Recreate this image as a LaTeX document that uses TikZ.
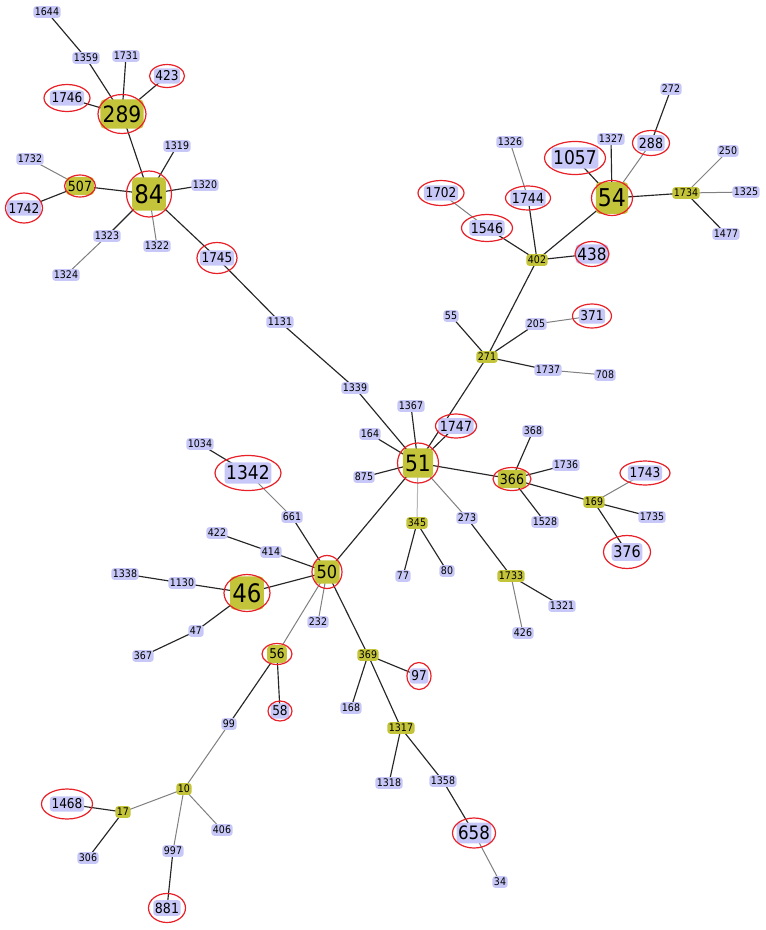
\documentclass[tikz,border=0pt]{standalone}
\usepackage{fontspec}
\setmainfont{DejaVu Sans}[FakeStretch=0.9]
\usetikzlibrary{shapes.geometric,backgrounds}
\definecolor{lav}{HTML}{C8C8F8}
\definecolor{oli}{HTML}{C4C43A}
\definecolor{ringred}{HTML}{E82028}
\tikzset{
  nd/.style={rounded corners=3pt, inner xsep=1.6pt, inner ysep=0pt,
    font=\fontsize{#1}{#1}\selectfont, minimum height={1.12*#1pt}, text=black},
  bl/.style={nd=#1, fill=lav},
  ol/.style={nd=#1, fill=oli},
  obig/.style={nd=#1, fill=oli, minimum height={1.3*#1pt}, inner xsep=2.2pt, rounded corners=4pt},
  ringe/.style={ellipse, draw=ringred, line width=1.2pt, inner sep=0pt},
  dk/.style={draw=black!85, line width=1.15pt},
  gr/.style={draw=black!50, line width=1pt},
  lg/.style={draw=black!28, line width=1pt}
}
\newcommand\nb[4]{\node[bl=#4] (n#1) at (#2,#3) {#1};}
\newcommand\no[4]{\node[ol=#4] (n#1) at (#2,#3) {#1};}
\newcommand\nob[4]{\node[obig=#4] (n#1) at (#2,#3) {#1};}
\newcommand\rg[3]{\node[ringe, minimum width=#2pt, minimum height=#3pt] (r#1) at (n#1.center) {};}
\newcommand\ed[3]{\draw[#1] (n#2.center) -- (n#3.center);}
\begin{document}
\begin{tikzpicture}[x=1pt,y=-1pt]
\useasboundingbox (0,0) rectangle (766,930);
% small blue
\nb{1644}{47}{12}{10.5}
\nb{1359}{86}{58}{10.5}
\nb{1731}{126}{56}{10.5}
\nb{1319}{177}{146}{10.5}
\nb{1320}{205}{185}{10.5}
\nb{1732}{30}{159}{10.5}
\nb{1323}{107}{236}{10.5}
\nb{1322}{157}{246}{10.5}
\nb{1324}{66}{275}{10.5}
\nb{1131}{280}{322}{10.5}
\nb{1339}{355}{388}{10.5}
\nb{272}{671}{89}{10.5}
\nb{1327}{611}{139}{10.5}
\nb{250}{728}{151}{10.5}
\nb{1326}{510}{142}{10.5}
\nb{1325}{746}{192}{10.5}
\nb{1477}{726}{234}{10.5}
\nb{55}{451}{316}{10.5}
\nb{205}{536}{324}{10.5}
\nb{1737}{548}{370}{10.5}
\nb{708}{605}{375}{10.5}
\nb{1367}{411}{406}{10.5}
\nb{164}{370}{434}{10.5}
\nb{875}{364}{477}{10.5}
\nb{368}{533}{431}{10.5}
\nb{1736}{566}{465}{10.5}
\nb{1735}{652}{517}{10.5}
\nb{273}{467}{518}{10.5}
\nb{1528}{545}{522}{10.5}
\nb{77}{403}{576}{10.5}
\nb{80}{447}{571}{10.5}
\nb{1321}{562}{606}{10.5}
\nb{426}{523}{633}{10.5}
\nb{1034}{200}{444}{10.5}
\nb{661}{292}{517}{10.5}
\nb{422}{217}{533}{10.5}
\nb{414}{271}{552}{10.5}
\nb{1338}{125}{574}{10.5}
\nb{1130}{182}{583}{10.5}
\nb{232}{318}{622}{10.5}
\nb{47}{196}{631}{10.5}
\nb{367}{143}{656}{10.5}
\nb{99}{229}{724}{10.5}
\nb{406}{222}{830}{10.5}
\nb{306}{88}{858}{10.5}
\nb{997}{173}{851}{10.5}
\nb{168}{351}{708}{10.5}
\nb{1318}{389}{783}{10.5}
\nb{1358}{443}{781}{10.5}
\nb{34}{500}{882}{10.5}
% small olive
\no{402}{537}{260}{10.5}
\no{271}{487}{357}{10.5}
\no{1734}{686}{193}{10.5}
\no{345}{417}{523}{10.5}
\no{169}{594}{502}{10.5}
\no{1733}{511}{576}{10.5}
\no{369}{368}{655}{10.5}
\no{1317}{401}{728}{10.5}
\no{10}{184}{789}{10.5}
\no{17}{123}{812}{10.5}
% big olive
\nob{289}{122}{114}{22.5}
\nob{84}{149}{194}{25.5}
\nob{507}{80}{186}{14}
\nob{54}{612}{198}{24.5}
\nob{51}{418}{463}{22.5}
\nob{366}{512}{479}{14}
\nob{50}{327}{572}{18}
\nob{46}{247}{593}{25.5}
\nob{56}{277}{654}{13.5}
% medium blue
\nb{423}{167}{76}{13.5}
\nb{1746}{67}{98}{13.5}
\nb{1742}{24}{208}{13.5}
\nb{1745}{217}{258}{13.5}
\nb{1057}{575}{158}{19}
\nb{288}{651}{143}{14}
\nb{1702}{441}{193}{13.5}
\nb{1744}{528}{198}{14}
\nb{1546}{487}{228}{14}
\nb{438}{592}{254}{17}
\nb{371}{592}{316}{13.5}
\nb{1747}{456}{426}{14}
\nb{1743}{645}{473}{13.5}
\nb{376}{627}{552}{16}
\nb{1342}{248}{473}{19}
\nb{58}{280}{711}{13.5}
\nb{1468}{67}{804}{13.5}
\nb{881}{167}{908}{14}
\nb{97}{419}{676}{13.5}
\nb{658}{474}{833}{18.5}
% rings
\rg{289}{48}{39}
\rg{84}{45}{46}
\rg{507}{31}{22}
\rg{54}{41}{35}
\rg{51}{41}{40}
\rg{366}{38}{23}
\rg{50}{30}{33}
\rg{46}{46}{37}
\rg{56}{30}{21}
\rg{423}{35}{23}
\rg{1746}{46}{27}
\rg{1742}{37}{30}
\rg{1745}{40}{31}
\rg{1057}{61}{33}
\rg{288}{37}{25}
\rg{1702}{46}{25}
\rg{1744}{45}{24}
\rg{1546}{51}{27}
\rg{438}{34}{25}
\rg{371}{39}{24}
\rg{1747}{41}{24}
\rg{1743}{50}{24}
\rg{376}{47}{33}
\rg{1342}{66}{35}
\rg{58}{24}{20}
\rg{1468}{51}{30}
\rg{881}{37}{29}
\rg{97}{24}{27}
\rg{658}{43}{30}
\begin{scope}[on background layer]
\fill[white] (0,0) rectangle (766,930);
\ed{dk}{1644}{1359}
\ed{dk}{1359}{289}
\ed{dk}{1731}{289}
\ed{dk}{423}{289}
\ed{dk}{1746}{289}
\ed{dk}{289}{84}
\ed{dk}{1319}{84}
\ed{dk}{1320}{84}
\ed{dk}{507}{84}
\ed{gr}{1732}{507}
\ed{dk}{1742}{507}
\ed{dk}{1323}{84}
\ed{gr}{1324}{1323}
\ed{gr}{1322}{84}
\ed{dk}{84}{1745}
\ed{dk}{1745}{1131}
\ed{dk}{1131}{1339}
\ed{dk}{1339}{51}
\ed{dk}{51}{1367}
\ed{dk}{51}{1747}
\ed{dk}{51}{271}
\ed{dk}{51}{164}
\ed{dk}{51}{875}
\ed{dk}{51}{366}
\ed{lg}{51}{345}
\ed{gr}{51}{273}
\ed{dk}{51}{50}
\ed{dk}{366}{368}
\ed{dk}{366}{1736}
\ed{dk}{366}{1528}
\ed{dk}{366}{169}
\ed{gr}{169}{1743}
\ed{dk}{169}{1735}
\ed{dk}{169}{376}
\ed{dk}{345}{77}
\ed{dk}{345}{80}
\ed{dk}{273}{1733}
\ed{dk}{1733}{1321}
\ed{gr}{1733}{426}
\ed{dk}{271}{55}
\ed{dk}{271}{205}
\ed{gr}{205}{371}
\ed{dk}{271}{1737}
\ed{gr}{1737}{708}
\ed{dk}{271}{402}
\ed{dk}{402}{1546}
\ed{gr}{1546}{1702}
\ed{dk}{402}{1744}
\ed{gr}{1744}{1326}
\ed{dk}{402}{438}
\ed{dk}{402}{54}
\ed{dk}{54}{1057}
\ed{dk}{54}{1327}
\ed{gr}{54}{288}
\ed{dk}{288}{272}
\ed{dk}{54}{1734}
\ed{gr}{1734}{250}
\ed{gr}{1734}{1325}
\ed{dk}{1734}{1477}
\ed{dk}{50}{661}
\ed{gr}{661}{1342}
\ed{dk}{1342}{1034}
\ed{dk}{50}{414}
\ed{dk}{414}{422}
\ed{dk}{50}{46}
\ed{dk}{46}{1130}
\ed{dk}{1130}{1338}
\ed{dk}{46}{47}
\ed{dk}{47}{367}
\ed{gr}{50}{232}
\ed{gr}{50}{56}
\ed{dk}{50}{369}
\ed{dk}{56}{58}
\ed{dk}{56}{99}
\ed{gr}{99}{10}
\ed{gr}{10}{17}
\ed{dk}{17}{1468}
\ed{dk}{17}{306}
\ed{gr}{10}{406}
\ed{gr}{10}{997}
\ed{dk}{997}{881}
\ed{dk}{369}{97}
\ed{dk}{369}{168}
\ed{dk}{369}{1317}
\ed{dk}{1317}{1318}
\ed{dk}{1317}{1358}
\ed{dk}{1358}{658}
\ed{gr}{658}{34}
\end{scope}
\end{tikzpicture}
\end{document}
